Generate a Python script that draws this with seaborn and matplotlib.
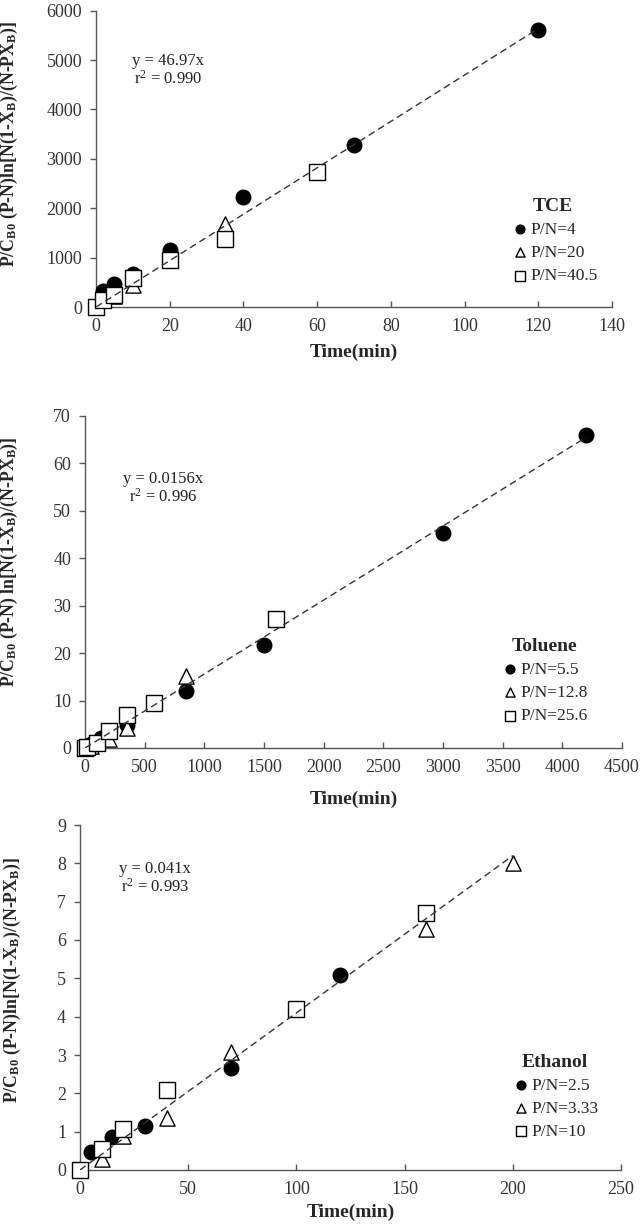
import numpy as np
import pandas as pd
import matplotlib
matplotlib.use("Agg")
import matplotlib.pyplot as plt
import seaborn as sns

# TCE
tce_pn4_t = [2, 5, 10, 20, 40, 70, 120]
tce_pn4_y = [320, 460, 660, 1160, 2230, 3280, 5600]
tce_pn20_t = [2, 5, 10, 20, 35]
tce_pn20_y = [150, 220, 440, 980, 1680]
tce_pn405_t = [0, 2, 5, 10, 20, 35, 60]
tce_pn405_y = [0, 140, 250, 580, 950, 1380, 2740]

# Toluene
tol_pn55_t = [50, 130, 350, 850, 1500, 3000, 4200]
tol_pn55_y = [0.8, 2.2, 4.8, 12.0, 21.8, 45.3, 66.0]
tol_pn128_t = [0, 50, 200, 350, 850]
tol_pn128_y = [0, 0.5, 1.8, 4.2, 15.2]
tol_pn256_t = [0, 20, 100, 200, 350, 580, 1600]
tol_pn256_y = [0, 0.3, 1.0, 3.6, 6.9, 9.5, 27.3]

# Ethanol
eth_pn25_t = [5, 15, 30, 70, 120]
eth_pn25_y = [0.47, 0.86, 1.15, 2.67, 5.1]
eth_pn333_t = [10, 20, 40, 70, 160, 200]
eth_pn333_y = [0.3, 0.9, 1.36, 3.08, 6.3, 8.0]
eth_pn10_t = [0, 10, 20, 40, 100, 160]
eth_pn10_y = [0, 0.55, 1.07, 2.1, 4.2, 6.7]

slopes = [46.97, 0.0156, 0.041]
r2_values = ["0.990", "0.996", "0.993"]
slope_labels = ["46.97", "0.0156", "0.041"]
compounds = ["TCE", "Toluene", "Ethanol"]
series_labels = [
    ["P/N=4", "P/N=20", "P/N=40.5"],
    ["P/N=5.5", "P/N=12.8", "P/N=25.6"],
    ["P/N=2.5", "P/N=3.33", "P/N=10"],
]
series_data = [
    [(tce_pn4_t, tce_pn4_y), (tce_pn20_t, tce_pn20_y), (tce_pn405_t, tce_pn405_y)],
    [(tol_pn55_t, tol_pn55_y), (tol_pn128_t, tol_pn128_y), (tol_pn256_t, tol_pn256_y)],
    [(eth_pn25_t, eth_pn25_y), (eth_pn333_t, eth_pn333_y), (eth_pn10_t, eth_pn10_y)],
]
x_limits = [(0, 140, 20), (0, 4500, 500), (0, 250, 50)]
y_limits = [(0, 6000, 1000), (0, 70, 10), (0, 9, 1)]
ylabels = [
    r"P/C$_{\mathbf{B0}}$ (P-N)ln[N(1-X$_{\mathbf{B}}$)/(N-PX$_{\mathbf{B}}$)]",
    r"P/C$_{\mathbf{B0}}$ (P-N) ln[N(1-X$_{\mathbf{B}}$)/(N-PX$_{\mathbf{B}}$)]",
    r"P/C$_{\mathbf{B0}}$ (P-N)ln[N(1-X$_{\mathbf{B}}$)/(N-PX$_{\mathbf{B}}$)]",
]

sns.set_style("ticks")
plt.rcParams["font.family"] = ["Liberation Serif", "DejaVu Serif"]
plt.rcParams["mathtext.fontset"] = "custom"
plt.rcParams["mathtext.rm"] = "Liberation Serif"
plt.rcParams["mathtext.it"] = "Liberation Serif:italic"
plt.rcParams["mathtext.bf"] = "Liberation Serif:bold"

W, H = 641, 1227
fig = plt.figure(figsize=(W / 100, H / 100), dpi=100)

# axes boxes in pixels: left, right, top, bottom
boxes = [(96, 612, 10.7, 307), (85, 622, 416, 748), (80, 621, 825, 1170)]
annot_pos = [(0.14, 0.80), (0.145, 0.783), (0.139, 0.846)]
legend_pos = [(0.886, 0.223), (0.855, 0.202), (0.878, 0.212)]
xlabel_off = [37, 43, 34]
ylabel_x = [20, 20, 23]
ylabel_y = [0.55, 0.56, 0.55]

markers = ["o", "^", "s"]
faces = ["black", "white", "white"]
sizes = [110, 120, 120]

for i in range(3):
    l, r, t, b = boxes[i]
    ax = fig.add_axes([l / W, 1 - b / H, (r - l) / W, (b - t) / H])

    for j, (tt, yy) in enumerate(series_data[i]):
        df = pd.DataFrame({"t": tt, "y": yy})
        sns.scatterplot(data=df, x="t", y="y", ax=ax, marker=markers[j],
                        color=faces[j], edgecolor="black", linewidth=1.0,
                        s=sizes[j], label=series_labels[i][j], clip_on=False,
                        zorder=3 + j)

    t_end = max(max(s[0]) for s in series_data[i])
    fit = pd.DataFrame({"t": [0, t_end], "y": [0, slopes[i] * t_end]})
    sns.lineplot(data=fit, x="t", y="y", ax=ax, color="#333333",
                 linestyle=(0, (5, 3)), linewidth=1.0, zorder=7)

    x0, x1, xs = x_limits[i]
    y0, y1, ys = y_limits[i]
    ax.set_xlim(x0, x1)
    ax.set_ylim(y0, y1)
    ax.set_xticks(np.arange(x0, x1 + xs / 2, xs))
    ax.set_yticks(np.arange(y0, y1 + ys / 2, ys))
    sns.despine(ax=ax)
    for sp in ["left", "bottom"]:
        ax.spines[sp].set_color("#555555")
        ax.spines[sp].set_linewidth(1.0)
    ax.tick_params(axis="x", direction="in", length=4, width=1, color="#555555",
                   labelsize=13, labelcolor="#333333", pad=8)
    ax.tick_params(axis="y", direction="out", length=4, width=1, color="#555555",
                   labelsize=13, labelcolor="#333333", pad=6)

    ax.set_xlabel("Time(min)", fontsize=14, fontweight="bold")
    ax.xaxis.set_label_coords(0.5, -xlabel_off[i] / (b - t))
    ax.set_ylabel(ylabels[i], fontsize=12.8, fontweight="bold")
    ax.yaxis.set_label_coords((ylabel_x[i] - l) / (r - l), ylabel_y[i])

    ax.text(annot_pos[i][0], annot_pos[i][1],
            f"y = {slope_labels[i]}x\n" + r"r$^{\mathregular{2}}$ = " + r2_values[i],
            transform=ax.transAxes, ha="center", va="center", fontsize=12,
            linespacing=1.05, color="#222222")

    leg = ax.legend(title=compounds[i], loc="center",
                    bbox_to_anchor=legend_pos[i], frameon=False,
                    fontsize=12.5, markerscale=0.6, handletextpad=0.0,
                    handlelength=1.2, labelspacing=0.4)
    leg.get_title().set_fontweight("bold")
    leg.get_title().set_fontsize(14)

fig.savefig("out.png", dpi=100)
